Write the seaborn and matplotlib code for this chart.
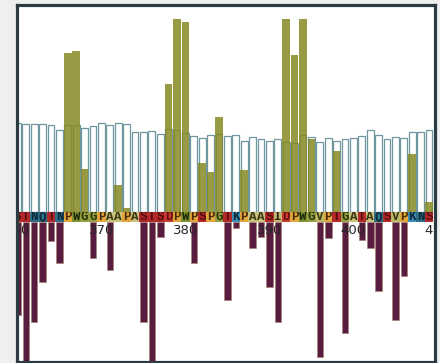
import matplotlib
matplotlib.use("Agg")
import matplotlib.pyplot as plt
import seaborn as sns
import pandas as pd

# ---------------- data ----------------
positions = list(range(360, 410))
residues = list("STNQTNPWGGPAAPASTSDPWPSPGTKPAASIDPWGVPTGATAQSVPKNS")

white_vals = [89, 88, 88, 88, 87, 82, 87, 87, 84, 86,
              89, 87, 89, 88, 80, 80, 81, 78, 83, 82,
              79, 76, 74, 77, 78, 76, 77, 71, 75, 73,
              71, 73, 70, 69, 77, 75, 70, 74, 71, 73,
              74, 76, 82, 77, 73, 75, 74, 80, 80, 82]

olive_pos = [366, 367, 368, 372, 373, 378, 379, 380, 382, 383, 384, 387,
             392, 393, 394, 395, 398, 407, 409]
olive_vals = [159, 161, 43, 27, 4, 128, 193, 190, 49, 40, 95, 42,
              193, 157, 193, 73, 61, 58, 10]

maroon_pos = [360, 361, 362, 363, 364, 365, 369, 371, 375, 376, 377, 381,
              385, 386, 388, 389, 390, 391, 396, 397, 399, 401, 402, 403,
              405, 406]
maroon_vals = [93, 143, 100, 60, 19, 41, 36, 48, 100, 143, 15, 41,
               78, 6, 26, 15, 65, 100, 135, 16, 111, 18, 26, 69,
               98, 54]

tick_positions = [360, 370, 380, 390, 400, 410]
tick_labels = ["360", "370", "380", "390", "400", "410"]

# ---------------- styles ----------------
bg_map = {
    "S": "#b3292b", "T": "#b3292b", "D": "#c83a30", "E": "#c83a30",
    "N": "#2c6f86", "Q": "#2c6f86", "K": "#3a8db5", "R": "#3a8db5",
    "P": "#e2a63a", "W": "#7f9232", "G": "#95a040",
    "A": "#c9c27e", "V": "#bdb964", "I": "#c4b872",
}
fg_map = {
    "S": "#5a0c0c", "T": "#5a0c0c", "D": "#6a1010", "E": "#6a1010",
    "N": "#0e2a3a", "Q": "#0e2a3a", "K": "#0e2a3a", "R": "#0e2a3a",
    "P": "#4a2a08", "W": "#1e2a08", "G": "#2a3208",
    "A": "#3a3610", "V": "#3a3610", "I": "#2a2410",
}

sns.set_theme(style="white")
plt.rcParams["font.family"] = ["DejaVu Sans"]

W, H = 440, 363
fig = plt.figure(figsize=(W / 100, H / 100), dpi=100)
fig.patch.set_facecolor("#efefef")

xl, xr = 17, 435
ytop, ybase, yband, ybot = 5, 212, 222, 361.5
left = xl / W
width = (xr - xl) / W
xlim = (359.95, 409.71)


def fy(px):
    return 1 - px / H


def clean(ax):
    ax.set_xlim(*xlim)
    ax.set_xticks([])
    ax.set_yticks([])
    ax.set_xlabel("")
    ax.set_ylabel("")
    for s in ax.spines.values():
        s.set_visible(False)


# upper bars
ax_top = fig.add_axes([left, fy(ybase), width, (ybase - ytop) / H], zorder=1)
ax_top.set_facecolor("white")
df_w = pd.DataFrame({"pos": positions, "val": white_vals})
sns.barplot(data=df_w, x="pos", y="val", native_scale=True, color="white",
            saturation=1, errorbar=None, width=0.8, edgecolor="#6f969f",
            linewidth=0.9, ax=ax_top)
df_o = pd.DataFrame({"pos": olive_pos, "val": olive_vals})
sns.barplot(data=df_o, x="pos", y="val", native_scale=True, color="#868a22",
            saturation=1, errorbar=None, width=0.92, alpha=0.85,
            linewidth=0, ax=ax_top)
ax_top.set_ylim(0, ybase - ytop)
clean(ax_top)

# residue band
ax_band = fig.add_axes([left, fy(yband), width, (yband - ybase) / H], zorder=2)
ax_band.bar(positions, [1] * len(positions), width=1.0,
            color=[bg_map[r] for r in residues], edgecolor="none")
for p, r in zip(positions, residues):
    ax_band.text(p, 0.45, r, ha="center", va="center", fontsize=9,
                 family="Liberation Mono", fontweight="bold",
                 color=fg_map[r], clip_on=True)
ax_band.set_ylim(0, 1)
clean(ax_band)

# lower bars
ax_low = fig.add_axes([left, fy(ybot), width, (ybot - yband) / H], zorder=1)
ax_low.set_facecolor("white")
df_m = pd.DataFrame({"pos": maroon_pos, "val": maroon_vals})
sns.barplot(data=df_m, x="pos", y="val", native_scale=True, color="#581c40",
            saturation=1, errorbar=None, width=0.78, edgecolor="#a68474",
            linewidth=0.5, ax=ax_low)
ax_low.set_ylim(ybot - yband, 0)
clean(ax_low)
for p, t in zip(tick_positions, tick_labels):
    ax_low.text(p, 8, t, ha="center", va="center", fontsize=9.5,
                color="#262626", clip_on=True, zorder=10)

# frame
ax_frame = fig.add_axes([left, fy(ybot), width, (ybot - ytop) / H], zorder=10)
ax_frame.patch.set_alpha(0)
ax_frame.set_xticks([])
ax_frame.set_yticks([])
for s in ax_frame.spines.values():
    s.set_visible(True)
    s.set_color("#2c3a42")
    s.set_linewidth(2.3)

fig.savefig("out.png", dpi=100, facecolor=fig.get_facecolor())
